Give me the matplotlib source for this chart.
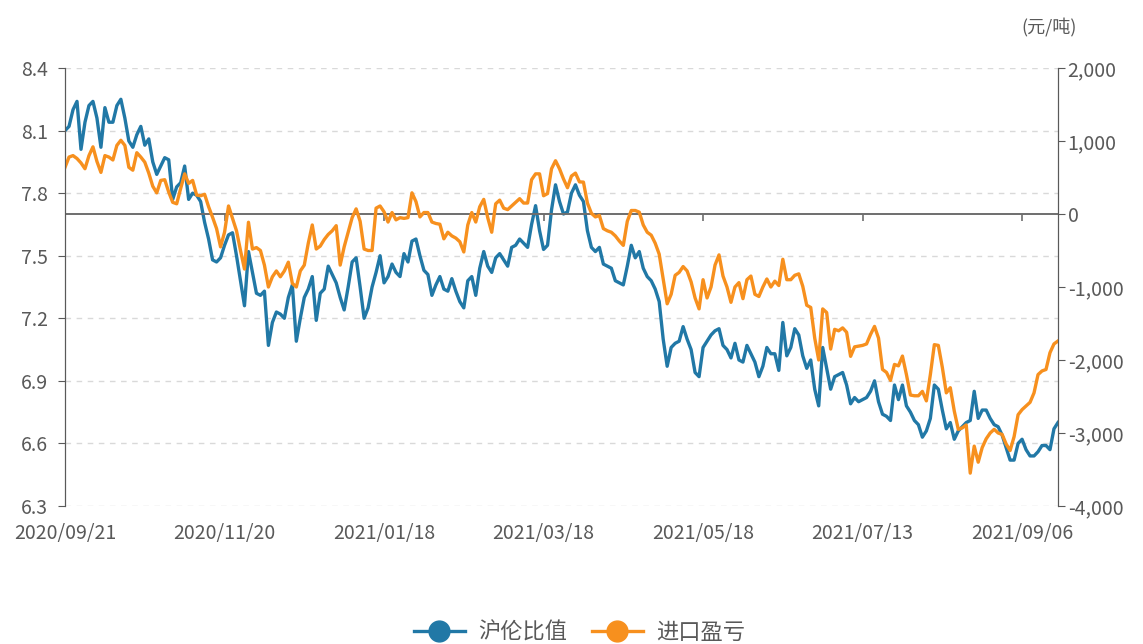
import matplotlib
matplotlib.use("Agg")
import matplotlib.pyplot as plt
from matplotlib.ticker import FuncFormatter, MultipleLocator

plt.rcParams["font.family"] = ["Noto Sans CJK SC", "DejaVu Sans"]

### Data ###

tick_labels = ["2020/09/21", "2020/11/20", "2021/01/18", "2021/03/18",
               "2021/05/18", "2021/07/13", "2021/09/06"]
tick_step = 40

# 沪伦比值 (left axis)
ratio = [
    8.10, 8.12, 8.20, 8.24, 8.01, 8.14, 8.22, 8.24, 8.16, 8.02,
    8.21, 8.14, 8.14, 8.22, 8.25, 8.16, 8.05, 8.02, 8.08, 8.12,
    8.03, 8.06, 7.95, 7.89, 7.93, 7.97, 7.96, 7.77, 7.83, 7.85,
    7.93, 7.77, 7.80, 7.79, 7.76, 7.66, 7.58, 7.48, 7.47, 7.49,
    7.55, 7.60, 7.61, 7.50, 7.38, 7.26, 7.52, 7.42, 7.32, 7.31,
    7.33, 7.07, 7.18, 7.23, 7.22, 7.20, 7.30, 7.36, 7.09, 7.20,
    7.30, 7.34, 7.40, 7.19, 7.32, 7.34, 7.45, 7.41, 7.37, 7.30,
    7.24, 7.35, 7.47, 7.49, 7.35, 7.20, 7.25, 7.35, 7.42, 7.50,
    7.37, 7.40, 7.46, 7.42, 7.40, 7.51, 7.47, 7.57, 7.58, 7.50,
    7.43, 7.41, 7.31, 7.36, 7.40, 7.34, 7.33, 7.39, 7.33, 7.28,
    7.25, 7.38, 7.40, 7.31, 7.44, 7.52, 7.45, 7.42, 7.49, 7.51,
    7.48, 7.45, 7.54, 7.55, 7.58, 7.56, 7.54, 7.65, 7.74, 7.62,
    7.53, 7.55, 7.72, 7.84, 7.76, 7.70, 7.71, 7.80, 7.84, 7.79,
    7.76, 7.62, 7.54, 7.52, 7.54, 7.46, 7.45, 7.44, 7.38, 7.37,
    7.36, 7.45, 7.55, 7.49, 7.52, 7.44, 7.40, 7.38, 7.34, 7.28,
    7.10, 6.97, 7.06, 7.08, 7.09, 7.16, 7.10, 7.05, 6.94, 6.92,
    7.06, 7.09, 7.12, 7.14, 7.15, 7.07, 7.05, 7.01, 7.08, 7.00,
    6.99, 7.07, 7.03, 6.99, 6.92, 6.97, 7.06, 7.03, 7.03, 6.95,
    7.18, 7.02, 7.06, 7.15, 7.12, 7.02, 6.96, 7.00, 6.86, 6.78,
    7.06, 6.96, 6.86, 6.92, 6.93, 6.94, 6.88, 6.79, 6.82, 6.80,
    6.81, 6.82, 6.85, 6.90, 6.80, 6.74, 6.73, 6.71, 6.88, 6.81,
    6.88, 6.78, 6.75, 6.71, 6.69, 6.63, 6.66, 6.72, 6.88, 6.86,
    6.76, 6.67, 6.70, 6.62, 6.66, 6.68, 6.70, 6.71, 6.85, 6.72,
    6.76, 6.76, 6.72, 6.69, 6.68, 6.64, 6.58, 6.52, 6.52, 6.60,
    6.62, 6.57, 6.54, 6.54, 6.56, 6.59, 6.59, 6.57, 6.67, 6.70,
]

# 进口盈亏 (right axis, 元/吨)
profit = [
    640, 780, 800, 760, 700, 620, 800, 920, 720, 570,
    800, 780, 740, 940, 1010, 940, 640, 600, 840, 780,
    710, 560, 380, 290, 460, 470, 300, 160, 140, 350,
    550, 420, 460, 260, 250, 270, 100, -45, -200, -450,
    -250, 110, -60, -230, -500, -754, -113, -480, -460, -500,
    -700, -1000, -860, -780, -860, -780, -660, -950, -1000, -780,
    -700, -400, -150, -480, -440, -350, -280, -230, -160, -700,
    -450, -250, -50, 70, -100, -480, -500, -500, 80, 110,
    30, -110, 20, -80, -50, -60, -50, 290, 170, -40,
    20, 20, -110, -130, -140, -340, -250, -300, -330, -380,
    -520, -150, 20, -110, 100, 200, -50, -250, 140, 190,
    80, 60, 110, 160, 210, 150, 150, 470, 550, 550,
    250, 280, 620, 730, 620, 480, 360, 520, 560, 440,
    437, 150, 10, -40, -20, -200, -230, -250, -300, -370,
    -430, -100, 48, 48, 25, -150, -250, -290, -400, -550,
    -890, -1230, -1100, -840, -800, -720, -780, -930, -1150, -1300,
    -900, -1150, -1000, -700, -560, -850, -1000, -1210, -1000, -940,
    -1160, -900, -850, -1100, -1130, -1000, -890, -1000, -920, -980,
    -620, -900, -900, -840, -820, -990, -1250, -1280, -1700, -2000,
    -1300, -1350, -1850, -1580, -1600, -1560, -1620, -1950, -1820, -1810,
    -1800, -1780, -1650, -1540, -1700, -2129, -2170, -2280, -2061, -2080,
    -1946, -2200, -2480, -2490, -2490, -2430, -2560, -2200, -1790, -1800,
    -2100, -2450, -2380, -2700, -2950, -2930, -2890, -3550, -3180, -3400,
    -3200, -3080, -3000, -2950, -3000, -3020, -3150, -3240, -3050, -2750,
    -2680, -2630, -2580, -2450, -2200, -2150, -2130, -1900, -1780, -1740,
]

### Style ###

BLUE = "#2178a6"
ORANGE = "#f7901e"
AXIS = "#595959"
TEXT = "#595959"
GRID = "#d9d9d9"

fig = plt.figure(figsize=(11.43, 6.44), dpi=100)
ax = fig.add_axes([0.0569, 0.2143, 0.8687, 0.6801])
ax2 = ax.twinx()

x = list(range(len(ratio)))

ax.plot(x, ratio, color=BLUE, lw=2.4, zorder=3)
ax2.plot(x, profit, color=ORANGE, lw=2.4, zorder=2)

# left axis
ax.set_ylim(6.3, 8.4)
ax.yaxis.set_major_locator(MultipleLocator(0.3))
ax.yaxis.set_major_formatter(FuncFormatter(lambda v, p: f"{v:.1f}"))
ax.grid(axis="y", color=GRID, ls=(0, (4, 4)), lw=1)
ax.set_axisbelow(True)

# right axis
ax2.set_ylim(-4000, 2000)
ax2.yaxis.set_major_locator(MultipleLocator(1000))
ax2.yaxis.set_major_formatter(FuncFormatter(lambda v, p: f"{v:,.0f}"))

# x axis: category labels at bottom, axis line drawn on zero of right axis
ax.set_xlim(0, len(ratio) - 1)
tick_pos = [k * tick_step for k in range(len(tick_labels))]
ax.set_xticks(tick_pos)
ax.set_xticklabels(tick_labels)
ax.tick_params(axis="x", length=0, pad=12, labelsize=14, colors=TEXT)
ax2.axhline(0, color="#6e6e6e", lw=1.4, zorder=1)
ax2.plot(tick_pos[1:], [0] * (len(tick_pos) - 1), ls="none", marker=3,
         ms=5, mew=1.2, color="#6e6e6e", zorder=1)

for a in (ax, ax2):
    a.spines["top"].set_visible(False)
    a.spines["bottom"].set_visible(False)
    a.spines["left"].set_color(AXIS)
    a.spines["right"].set_color(AXIS)
ax.tick_params(axis="y", length=5, color=AXIS, labelsize=14, labelcolor=TEXT, pad=7)
ax2.tick_params(axis="y", length=5, color=AXIS, labelsize=14, labelcolor=TEXT, pad=2)

fig.text(1049 / 1143, 1 - 28 / 644, "(元/吨)", ha="center", va="center",
         fontsize=13, color=TEXT)

h1, = ax.plot([], [], color=BLUE, lw=2.4, marker="o", ms=15)
h2, = ax.plot([], [], color=ORANGE, lw=2.4, marker="o", ms=15)
fig.legend([h1, h2], ["沪伦比值", "进口盈亏"], loc="center",
           bbox_to_anchor=(0.507, 0.018), ncol=2, frameon=False,
           fontsize=16, labelcolor=TEXT, handlelength=2.3, columnspacing=1.1,
           handletextpad=0.6)

fig.savefig("out.png", dpi=100)
